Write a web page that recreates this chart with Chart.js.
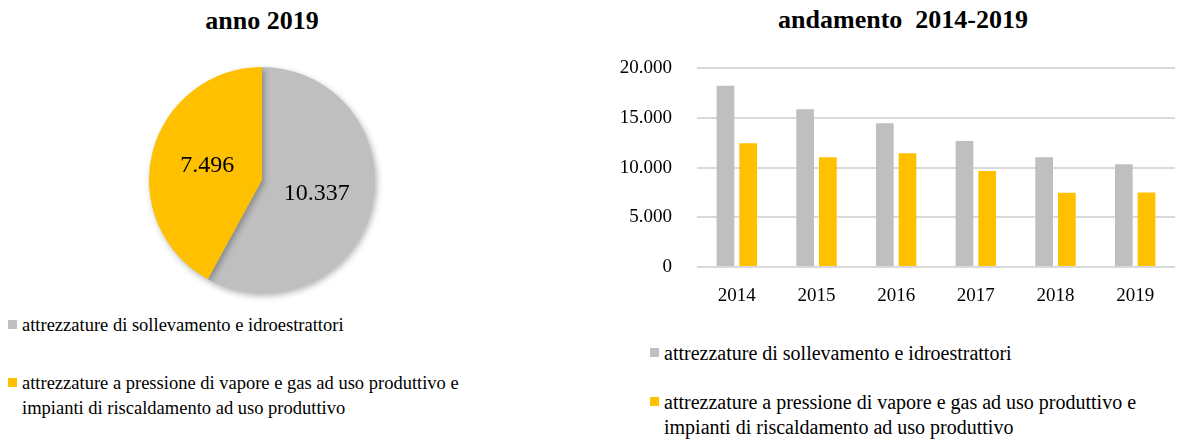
<!DOCTYPE html>
<html>
<head>
<meta charset="utf-8">
<script src="https://cdn.jsdelivr.net/npm/chart.js@4.4.1/dist/chart.umd.min.js"></script>
<style>
  html, body { margin: 0; padding: 0; background: #fff; }
  body { width: 1181px; height: 440px; overflow: hidden; position: relative; font-family: "Liberation Serif", serif; color: #000; }
  .title { position: absolute; font-family: "Liberation Serif", serif; font-weight: bold; font-size: 26px; text-align: center; white-space: pre; }
  .legend { position: absolute; font-family: "Liberation Serif", serif; font-size: 18.5px; line-height: 25px; }
  .item { position: relative; padding-left: 14px; }
  .item i { position: absolute; left: 0; top: 7px; width: 9px; height: 9px; }
  #pieWrap { position: absolute; left: 137px; top: 55px; width: 250px; height: 250px; }
  #barWrap { position: absolute; left: 590px; top: 32px; width: 591px; height: 278px; }
</style>
</head>
<body>
<div class="title" style="left:112px; top:6px; width:300px;">anno 2019</div>
<div class="title" style="left:753px; top:5px; width:300px;">andamento  2014-2019</div>

<div id="pieWrap"><canvas id="pie-chart"></canvas></div>
<div id="barWrap"><canvas id="bar-chart"></canvas></div>

<div class="legend" style="left:8px; top:313px;">
  <div class="item"><i style="background:#BFBFBF"></i>attrezzature di sollevamento e idroestrattori</div>
  <div class="item" style="margin-top:33px;"><i style="background:#FFC000"></i>attrezzature a pressione di vapore e gas ad uso produttivo e<br>impianti di riscaldamento ad uso produttivo</div>
</div>
<div class="legend" style="left:650px; top:341px; font-size:20px;">
  <div class="item"><i style="background:#BFBFBF"></i>attrezzature di sollevamento e idroestrattori</div>
  <div class="item" style="margin-top:24px;"><i style="background:#FFC000"></i>attrezzature a pressione di vapore e gas ad uso produttivo e<br>impianti di riscaldamento ad uso produttivo</div>
</div>

<script>
const years = ["2014", "2015", "2016", "2017", "2018", "2019"];
const seriesNames = ["attrezzature di sollevamento e idroestrattori",
                     "attrezzature a pressione di vapore e gas ad uso produttivo e impianti di riscaldamento ad uso produttivo"];
const sollevamento = [18250, 15880, 14470, 12700, 11060, 10337];
const pressione = [12460, 11060, 11460, 9680, 7480, 7496];
const pie2019 = [10337, 7496];
const colors = ["#BFBFBF", "#FFC000"];

function fmt(v) {
  return String(v).replace(/\B(?=(\d{3})+(?!\d))/g, ".");
}

Chart.defaults.font.family = "'Liberation Serif', serif";
Chart.defaults.color = "#000";

// shadow under the pie + value labels inside slices
const pieExtras = {
  id: "pieExtras",
  beforeDatasetsDraw(chart) {
    const ctx = chart.ctx;
    ctx.save();
    ctx.shadowColor = "rgba(0,0,0,0.3)";
    ctx.shadowBlur = 6;
    ctx.shadowOffsetX = 2;
    ctx.shadowOffsetY = 3;
  },
  afterDatasetsDraw(chart) {
    const ctx = chart.ctx;
    ctx.restore();
    const meta = chart.getDatasetMeta(0);
    ctx.save();
    ctx.font = "24px 'Liberation Serif', serif";
    ctx.fillStyle = "#000";
    ctx.textAlign = "center";
    ctx.textBaseline = "middle";
    meta.data.forEach(function (arc, i) {
      const p = arc.tooltipPosition();
      ctx.fillText(fmt(chart.data.datasets[0].data[i]), p.x, p.y);
    });
    ctx.restore();
  }
};

new Chart(document.getElementById("pie-chart"), {
  type: "pie",
  data: {
    labels: seriesNames,
    datasets: [{
      data: pie2019,
      backgroundColor: colors,
      borderWidth: 0
    }]
  },
  options: {
    responsive: true,
    maintainAspectRatio: false,
    animation: false,
    layout: { padding: 12 },
    plugins: {
      legend: { display: false },
      tooltip: { enabled: false }
    }
  },
  plugins: [pieExtras]
});

new Chart(document.getElementById("bar-chart"), {
  type: "bar",
  data: {
    labels: years,
    datasets: [{
      label: seriesNames[0],
      data: sollevamento,
      backgroundColor: colors[0],
      categoryPercentage: 0.57,
      barPercentage: 0.78
    }, {
      label: seriesNames[1],
      data: pressione,
      backgroundColor: colors[1],
      categoryPercentage: 0.57,
      barPercentage: 0.78
    }]
  },
  options: {
    responsive: true,
    maintainAspectRatio: false,
    animation: false,
    layout: { padding: { top: 0, right: 6, left: 0, bottom: 0 } },
    plugins: {
      legend: { display: false },
      tooltip: { enabled: false }
    },
    scales: {
      x: {
        grid: { display: false, drawTicks: false },
        border: { display: false },
        ticks: { font: { size: 19 }, padding: 18 },
        afterFit: function (scale) { scale.height = 43; }
      },
      y: {
        min: 0,
        max: 20000,
        grid: { color: "#D9D9D9", lineWidth: 2, drawTicks: false },
        border: { display: false },
        ticks: {
          stepSize: 5000,
          font: { size: 19 },
          padding: 25,
          callback: function (v) { return fmt(v); }
        },
        afterFit: function (scale) { scale.width = 107; }
      }
    }
  }
});
</script>
</body>
</html>
